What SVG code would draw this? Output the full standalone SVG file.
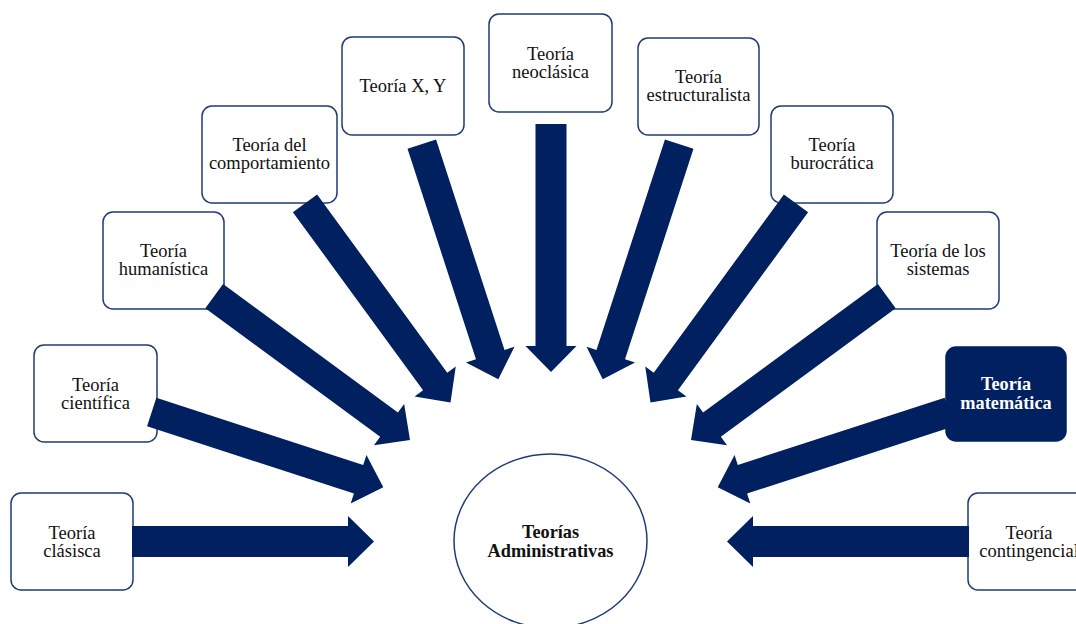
<svg xmlns="http://www.w3.org/2000/svg" width="1076" height="624" viewBox="0 0 1076 624">
  <style>
    .box { fill: #ffffff; stroke: #1f3b77; stroke-width: 1.5; }
    .box-dark { fill: #002060; stroke: #002060; stroke-width: 1.5; }
    .hub { fill: #ffffff; stroke: #1f3b77; stroke-width: 1.5; }
    .label { font-family: "Liberation Serif", "Times New Roman", serif; font-size: 18.5px; fill: #111111; text-anchor: middle; }
    .label-bold { font-family: "Liberation Serif", "Times New Roman", serif; font-size: 18.3px; font-weight: bold; fill: #111111; text-anchor: middle; }
    .label-white { font-family: "Liberation Serif", "Times New Roman", serif; font-size: 18.3px; font-weight: bold; fill: #ffffff; text-anchor: middle; }
    .arrow { fill: #002060; }
  </style>

  <rect width="1076" height="624" fill="#ffffff"/>

  <!-- central node -->
  <g id="teorias-administrativas">
    <ellipse class="hub" cx="550.5" cy="541" rx="96.5" ry="87"/>
    <text class="label-bold" x="550.5" y="538">Teorías</text>
    <text class="label-bold" x="550.5" y="557">Administrativas</text>
  </g>

  <!-- theory nodes -->
  <g id="teoria-clasica">
    <rect class="box" x="11" y="493" width="122" height="97" rx="10"/>
    <text class="label" x="72" y="538.5">Teoría</text>
    <text class="label" x="72" y="556.5">clásisca</text>
  </g>
  <g id="teoria-cientifica">
    <rect class="box" x="34" y="345" width="123" height="97" rx="10"/>
    <text class="label" x="95.5" y="390.5">Teoría</text>
    <text class="label" x="95.5" y="408.5">científica</text>
  </g>
  <g id="teoria-humanistica">
    <rect class="box" x="103" y="212" width="121" height="97" rx="10"/>
    <text class="label" x="163.5" y="257">Teoría</text>
    <text class="label" x="163.5" y="275">humanística</text>
  </g>
  <g id="teoria-comportamiento">
    <rect class="box" x="202" y="106" width="135" height="97" rx="10"/>
    <text class="label" x="269.5" y="151">Teoría del</text>
    <text class="label" x="269.5" y="169">comportamiento</text>
  </g>
  <g id="teoria-xy">
    <rect class="box" x="342" y="37" width="122" height="98" rx="10"/>
    <text class="label" x="403" y="92">Teoría X, Y</text>
  </g>
  <g id="teoria-neoclasica">
    <rect class="box" x="489" y="14" width="123" height="98" rx="10"/>
    <text class="label" x="550.5" y="60">Teoría</text>
    <text class="label" x="550.5" y="78">neoclásica</text>
  </g>
  <g id="teoria-estructuralista">
    <rect class="box" x="638" y="38" width="121" height="97" rx="10"/>
    <text class="label" x="698.5" y="83">Teoría</text>
    <text class="label" x="698.5" y="101">estructuralista</text>
  </g>
  <g id="teoria-burocratica">
    <rect class="box" x="771" y="106" width="122" height="97" rx="10"/>
    <text class="label" x="832" y="151">Teoría</text>
    <text class="label" x="832" y="169">burocrática</text>
  </g>
  <g id="teoria-sistemas">
    <rect class="box" x="877" y="212" width="122" height="97" rx="10"/>
    <text class="label" x="938" y="257">Teoría de los</text>
    <text class="label" x="938" y="275">sistemas</text>
  </g>
  <g id="teoria-matematica">
    <rect class="box-dark" x="946" y="347" width="120" height="94" rx="10"/>
    <text class="label-white" x="1006" y="390">Teoría</text>
    <text class="label-white" x="1006" y="408.5">matemática</text>
  </g>
  <g id="teoria-contingencial">
    <rect class="box" x="968" y="493" width="122" height="97" rx="10"/>
    <text class="label" x="1029" y="538.5">Teoría</text>
    <text class="label" x="1029" y="556.5">contingencial</text>
  </g>

  <!-- block arrows pointing toward the centre -->
  <g id="connectors">
    <polygon class="arrow" points="132,526 348,526 348,516 374,541.5 348,567 348,557 132,557"/>
    <polygon class="arrow" points="147.06,426.27 353.93,493.53 350.69,503.51 383.3,487.3 366.45,455.01 363.21,464.99 156.34,397.73"/>
    <polygon class="arrow" points="205.32,308.29 380.16,436.7 373.94,445.17 410,440 404.14,404.05 397.92,412.52 223.08,284.11"/>
    <polygon class="arrow" points="292.89,212.15 423.06,390.35 414.58,396.54 450.5,402.5 455.76,366.46 447.28,372.65 317.11,194.45"/>
    <polygon class="arrow" points="407.53,148.84 475.98,359.21 466,362.46 498.3,379.3 514.5,346.68 504.52,349.93 436.07,139.56"/>
    <polygon class="arrow" points="535.5,124 535.5,346 525.5,346 551,372 576.5,346 566.5,346 566.5,124"/>
    <polygon class="arrow" points="693.47,148.84 625.02,359.21 635,362.46 602.7,379.3 586.5,346.68 596.48,349.93 664.93,139.56"/>
    <polygon class="arrow" points="808.11,212.15 677.94,390.35 686.42,396.54 650.5,402.5 645.24,366.46 653.72,372.65 783.89,194.45"/>
    <polygon class="arrow" points="895.68,308.29 720.84,436.7 727.06,445.17 691,440 696.86,404.05 703.08,412.52 877.92,284.11"/>
    <polygon class="arrow" points="953.94,426.27 747.07,493.53 750.31,503.51 717.7,487.3 734.55,455.01 737.79,464.99 944.66,397.73"/>
    <polygon class="arrow" points="969,526 753,526 753,516 727,541.5 753,567 753,557 969,557"/>
  </g>
</svg>
